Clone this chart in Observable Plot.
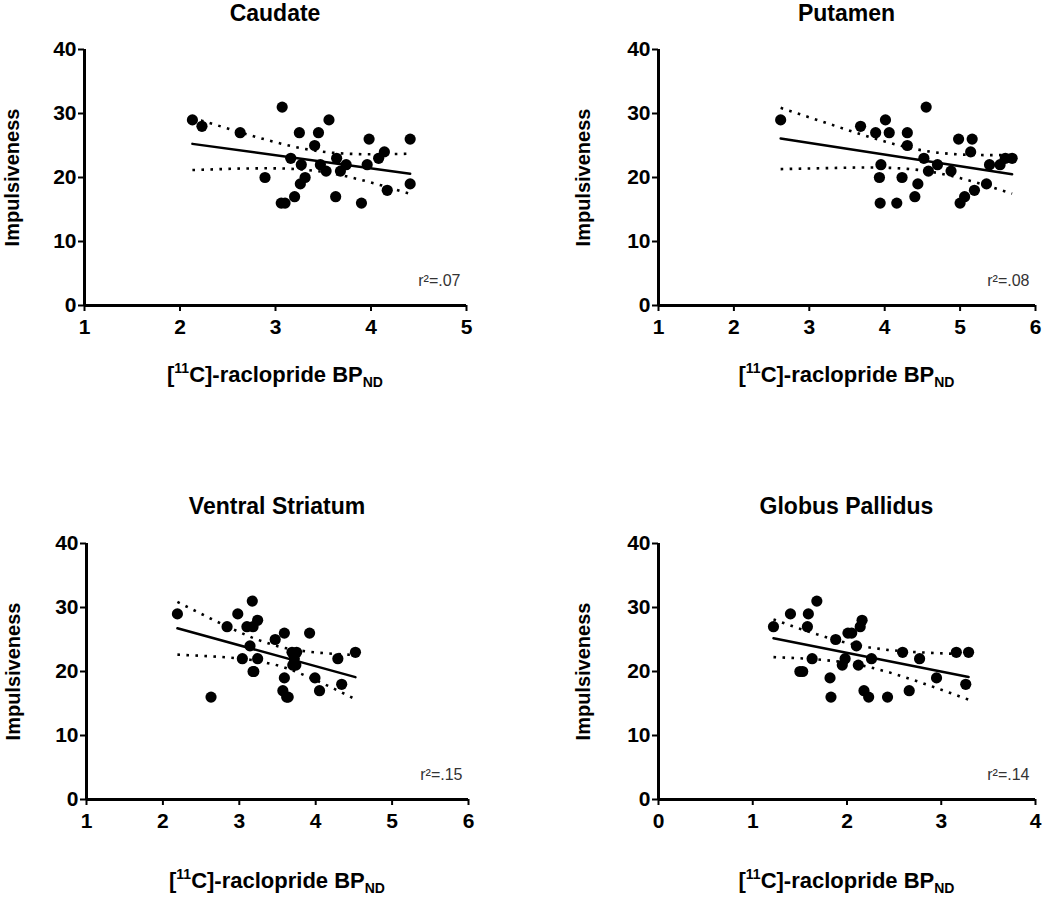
<!DOCTYPE html>
<html>
<head>
<meta charset="utf-8">
<script src="https://cdn.jsdelivr.net/npm/d3@7"></script>
<script src="https://cdn.jsdelivr.net/npm/@observablehq/plot@0.6"></script>
<style>
  body { margin: 0; background: #fff; }
  #root { position: relative; width: 1050px; height: 899px; overflow: hidden; background: #fff;
          font-family: 'Liberation Sans', Arial, Helvetica, sans-serif; color: #000; }
  .panel { position: absolute; }
  .title { position: absolute; font-weight: bold; font-size: 23px; line-height: 26px; white-space: nowrap; transform: translateX(-50%); }
  .xlab { position: absolute; font-weight: bold; font-size: 22px; line-height: 22px; white-space: nowrap; transform: translateX(-50%); }
  .xlab .sup { font-size: 14px; position: relative; top: -9px; }
  .xlab .sub { font-size: 14px; position: relative; top: 5px; }
</style>
</head>
<body>
<div id="root"></div>
<script>
// ---------------- data ----------------
const titles = ["Caudate", "Putamen", "Ventral Striatum", "Globus Pallidus"];
const r2Labels = ["r\u00B2=.07", "r\u00B2=.08", "r\u00B2=.15", "r\u00B2=.14"];
const yLabel = "Impulsiveness";
const yTicks = [0, 10, 20, 30, 40];
const caudateTicks = [1, 2, 3, 4, 5];
const putamenTicks = [1, 2, 3, 4, 5, 6];
const ventralTicks = [1, 2, 3, 4, 5, 6];
const globusTicks = [0, 1, 2, 3, 4];

const caudateX = [2.13, 2.23, 2.63, 3.07, 2.89, 3.06, 3.10, 3.20, 3.16, 3.25, 3.27, 3.26, 3.31, 3.41, 3.45,
                  3.47, 3.56, 3.53, 3.64, 3.63, 3.68, 3.74, 3.90, 3.96, 3.98, 4.08, 4.14, 4.17, 4.41, 4.41];
const caudateY = [29, 28, 27, 31, 20, 16, 16, 17, 23, 27, 22, 19, 20, 25, 27,
                  22, 29, 21, 23, 17, 21, 22, 16, 22, 26, 23, 24, 18, 26, 19];

const putamenX = [2.62, 3.68, 3.88, 4.01, 4.06, 3.95, 3.93, 3.94, 4.16, 4.23, 4.30, 4.30, 4.40, 4.44, 4.52,
                  4.55, 4.58, 4.70, 4.88, 4.98, 5.00, 5.06, 5.16, 5.14, 5.19, 5.35, 5.39, 5.53, 5.60, 5.69];
const putamenY = [29, 28, 27, 29, 27, 22, 20, 16, 16, 20, 27, 25, 17, 19, 23,
                  31, 21, 22, 21, 26, 16, 17, 26, 24, 18, 19, 22, 22, 23, 23];

const ventralX = [2.19, 2.63, 2.84, 2.98, 3.17, 3.10, 3.24, 3.14, 3.04, 3.24, 3.18, 3.47, 3.59, 3.92, 3.59,
                  3.57, 3.62, 3.69, 3.75, 3.72, 3.74, 3.99, 4.05, 4.29, 4.34, 4.52, 3.18, 3.64, 3.19, 3.70];
const ventralY = [29, 16, 27, 29, 31, 27, 28, 24, 22, 22, 20, 25, 26, 26, 19,
                  17, 16, 23, 23, 22, 21, 19, 17, 22, 18, 23, 27, 16, 20, 21];

const globusX = [1.22, 1.40, 1.59, 1.58, 1.68, 1.53, 1.63, 1.82, 1.83, 1.88, 1.95, 1.98, 2.05, 2.10, 2.14,
                 2.16, 2.12, 2.18, 2.23, 2.26, 2.43, 2.59, 2.66, 2.77, 2.95, 3.16, 3.29, 3.26, 1.50, 2.01];
const globusY = [27, 29, 29, 27, 31, 20, 22, 19, 16, 25, 21, 22, 26, 24, 27,
                 28, 21, 17, 16, 22, 16, 23, 17, 22, 19, 23, 23, 18, 20, 26];

// ---------------- layout ----------------
const T95 = 2.048; // t critical value, 95%, df = 28
const panels = [
  {xs: caudateX, ys: caudateY, ticks: caudateTicks, left: 0,   top: 0,   width: 500, mL: 84,  mR: 34, yLabDx: -72},
  {xs: putamenX, ys: putamenY, ticks: putamenTicks, left: 520, top: 0,   width: 530, mL: 138, mR: 15, yLabDx: -75},
  {xs: ventralX, ys: ventralY, ticks: ventralTicks, left: 0,   top: 494, width: 500, mL: 86,  mR: 32, yLabDx: -73},
  {xs: globusX,  ys: globusY,  ticks: globusTicks,  left: 520, top: 494, width: 530, mL: 138, mR: 15, yLabDx: -75}
];
const svgH = 341, mT = 49, mB = 36;

function fit(xs, ys) {
  const n = xs.length;
  const mx = d3.mean(xs), my = d3.mean(ys);
  let sxx = 0, sxy = 0;
  for (let i = 0; i < n; i++) { sxx += (xs[i] - mx) ** 2; sxy += (xs[i] - mx) * (ys[i] - my); }
  const b = sxy / sxx, a = my - b * mx;
  let sse = 0;
  for (let i = 0; i < n; i++) sse += (ys[i] - a - b * xs[i]) ** 2;
  const s = Math.sqrt(sse / (n - 2));
  const ux = Array.from(new Set(xs)).sort((p, q) => p - q);
  const band = ux.map(x => {
    const yh = a + b * x;
    const h = T95 * s * Math.sqrt(1 / n + (x - mx) ** 2 / sxx);
    return {x, yh, lo: yh - h, hi: yh + h};
  });
  const ext = d3.extent(xs);
  return {line: ext.map(x => ({x, y: a + b * x})), band};
}

const root = document.getElementById("root");
const fmt = d => String(d);

panels.forEach((p, i) => {
  const data = p.xs.map((x, j) => ({x, y: p.ys[j]}));
  const f = fit(p.xs, p.ys);
  const dotted = {stroke: "#000", strokeWidth: 2.6, strokeDasharray: "2.6 6.4", strokeLinecap: "butt", strokeLinejoin: "miter", curve: "linear"};
  const chart = Plot.plot({
    width: p.width, height: svgH,
    marginLeft: p.mL, marginRight: p.mR, marginTop: mT, marginBottom: mB,
    style: {fontFamily: "'Liberation Sans', Arial, Helvetica, sans-serif", fontSize: "21px", fontWeight: "bold",
            color: "#000", background: "transparent", overflow: "visible"},
    x: {domain: d3.extent(p.ticks)},
    y: {domain: [0, 40]},
    marks: [
      Plot.axisX({ticks: p.ticks, tickFormat: fmt, tickSize: 6, tickPadding: 8, strokeWidth: 2, label: null, fontSize: 21, fontWeight: "bold"}),
      Plot.axisY({ticks: yTicks, tickFormat: fmt, tickSize: 6, tickPadding: 2, strokeWidth: 2, label: null, fontSize: 21, fontWeight: "bold"}),
      Plot.ruleX([p.ticks[0]], {stroke: "#000", strokeWidth: 3}),
      Plot.ruleY([0], {stroke: "#000", strokeWidth: 3}),
      Plot.line(f.band, {x: "x", y: "hi", ...dotted}),
      Plot.line(f.band, {x: "x", y: "lo", ...dotted}),
      Plot.line(f.line, {x: "x", y: "y", stroke: "#000", strokeWidth: 2.5}),
      Plot.dot(data, {x: "x", y: "y", r: 5.6, fill: "#000", stroke: "none"}),
      Plot.text([r2Labels[i]], {frameAnchor: "bottom-right", text: d => d, dx: -6, dy: -20, textAnchor: "end",
                                fontSize: 16, fontWeight: "normal", fill: "#333"}),
      Plot.text([yLabel], {frameAnchor: "left", text: d => d, rotate: -90, textAnchor: "middle", lineAnchor: "middle",
                           dx: p.yLabDx, fontSize: 20, fontWeight: "bold", fill: "#000"})
    ]
  });
  const wrap = document.createElement("div");
  wrap.className = "panel";
  wrap.style.left = p.left + "px";
  wrap.style.top = p.top + "px";
  wrap.appendChild(chart);
  root.appendChild(wrap);

  const cx = p.left + p.mL + (p.width - p.mL - p.mR) / 2;
  const t = document.createElement("div");
  t.className = "title";
  t.textContent = titles[i];
  t.style.left = cx + "px";
  t.style.top = (p.top === 0 ? 0 : 493) + "px";
  root.appendChild(t);

  const xl = document.createElement("div");
  xl.className = "xlab";
  xl.innerHTML = '[<span class="sup">11</span>C]-raclopride BP<span class="sub">ND</span>';
  xl.style.left = cx + "px";
  xl.style.top = (p.top === 0 ? 364 : 870) + "px";
  root.appendChild(xl);
});
</script>
</body>
</html>
